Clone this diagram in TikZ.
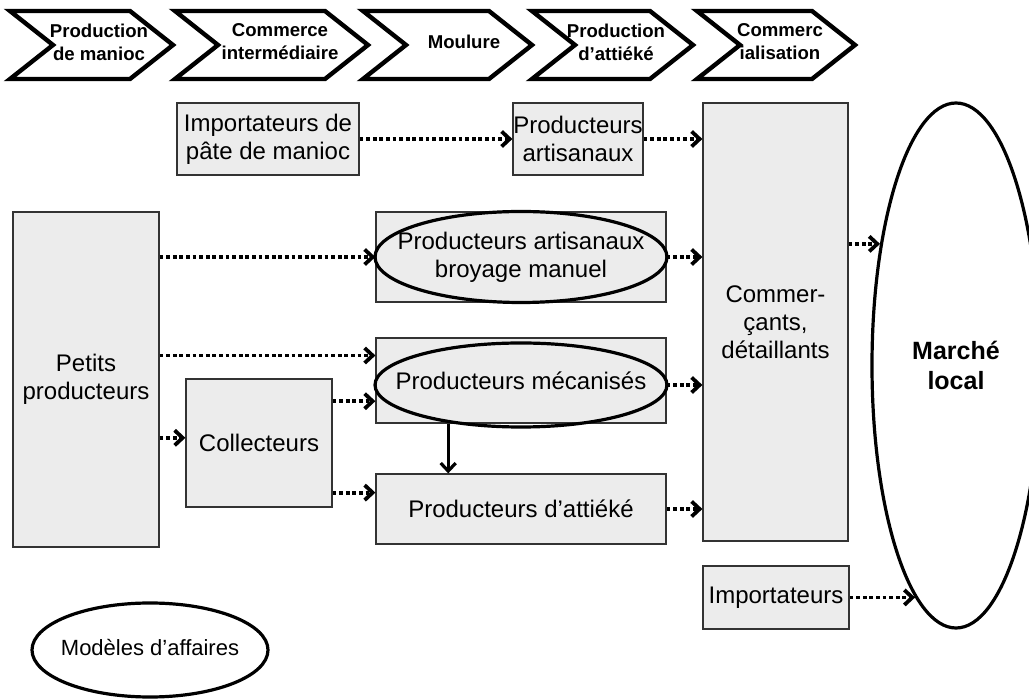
\documentclass[tikz,border=0pt]{standalone}
\usepackage{fontspec}
\setmainfont{Liberation Sans}
\usetikzlibrary{calc, shapes.geometric}
\usetikzlibrary{arrows.meta}
\definecolor{fond}{HTML}{ECECEC}

\begin{document}
\begin{tikzpicture}[x=0.5pt,y=-0.5pt,>={Straight Barb[length=4pt,width=7.5pt]},
  boite/.style={draw=black!80, line width=0.6pt, fill=fond, align=center, inner sep=0pt, font=\fontsize{12}{14}\selectfont},
  contour/.style={draw=black, line width=1.6pt},
  fleche/.style={->, line width=1.9pt, dash pattern=on 1.9pt off 1.4pt},
  etape/.style={draw=black, line width=2.2pt, fill=white},
  titre/.style={align=center, inner sep=0pt, font=\fontsize{9.3}{11.5}\selectfont\bfseries}]
  \useasboundingbox (0,0) rectangle (1029,699);

  % chevrons des étapes
  \foreach \xa/\xb/\xt/\lab [count=\i] in {10/173/99/{Production\\de manioc}, 175/368/280/{Commerce\\intermédiaire}, 363/532/464/Moulure, 532/693/616/{Production\\d’attiéké}, 697/855/780/{Commerc\\ialisation}} {
    \draw[etape] (\xa,11) -- (\xb-43,11) -- (\xb,45) -- (\xb-43,79) -- (\xa,79) -- (\xa+43,45) -- cycle;
    \node[titre] (etape-\i) at (\xt,42) {\lab};
  }

  % acteurs
  \node[boite, minimum width=91pt, minimum height=36pt] (imppate) at (268,139) {Importateurs de\\pâte de manioc};
  \node[boite, minimum width=65pt, minimum height=36pt] (artis) at (578,139) {Producteurs\\artisanaux};
  \node[boite, minimum width=72.5pt, minimum height=219pt] (comm) at (775.5,322) {Commer-\\çants,\\détaillants};
  \node[boite, minimum width=73pt, minimum height=31.5pt] (imp) at (776,597.5) {Importateurs};
  \node[boite, minimum width=73pt, minimum height=167.5pt] (petits) at (86,379.5) {Petits\\producteurs};
  \node[boite, minimum width=73pt, minimum height=64pt] (coll) at (259,443) {Collecteurs};
  \node[boite, minimum width=145pt, minimum height=45pt] (broy) at (521,257) {Producteurs artisanaux\\broyage manuel};
  \node[boite, minimum width=145pt, minimum height=42.5pt] (meca) at (521,380.5) {Producteurs mécanisés};
  \node[boite, minimum width=145pt, minimum height=35pt] (att) at (521,509) {Producteurs d’attiéké};

  % modèles d'affaires (ellipses)
  \draw[contour] (broy) ellipse [x radius=73pt, y radius=22.75pt];
  \coordinate (mecaov) at ($(meca)+(0,4.5)$);
  \draw[contour] (mecaov) ellipse [x radius=73pt, y radius=21pt];
  \node[contour, shape=ellipse, minimum width=84pt, minimum height=262.5pt, inner sep=0pt, align=center, font=\fontsize{12.5}{15}\selectfont\bfseries] (marche) at (956,365.5) {Marché\\local};
  \node[font=\fontsize{11}{13}\selectfont] (modeles) at (150,648) {Modèles d’affaires};
  \draw[contour] ($(modeles)+(0,2)$) ellipse [x radius=59pt, y radius=23.5pt];

  % flux
  \coordinate (m1) at ($(meca.north west)!0.21!(meca.south west)$);
  \coordinate (m2) at ($(meca.north west)!0.74!(meca.south west)$);
  \coordinate (c1) at ($(coll.north west)!0.46!(coll.south west)$);
  \coordinate (a1) at ($(att.north west)!0.27!(att.south west)$);
  \draw[fleche] (imppate) -- (artis);
  \draw[fleche] (artis.east) -- (artis.east -| comm.west);
  \draw[fleche] (broy.west -| petits.east) -- (broy.west);
  \draw[fleche] (m1 -| petits.east) -- (m1);
  \draw[fleche] (c1 -| petits.east) -- (c1);
  \draw[fleche] (m2 -| coll.east) -- (m2);
  \draw[fleche] (a1 -| coll.east) -- (a1);
  \draw[fleche] (broy.east) -- (broy.east -| comm.west);
  \draw[fleche] (mecaov -| meca.east) -- (mecaov -| comm.west);
  \draw[fleche] (att.east) -- (att.east -| comm.west);
  \draw[fleche] (comm.east |- marche.122) -- (marche.122);
  \draw[fleche] (imp.east |- marche.260) -- (marche.260);
  \draw[->, line width=1.6pt] ($(meca.south west)!0.25!(meca.south east)$) -- ($(att.north west)!0.25!(att.north east)$);
\end{tikzpicture}
\end{document}
